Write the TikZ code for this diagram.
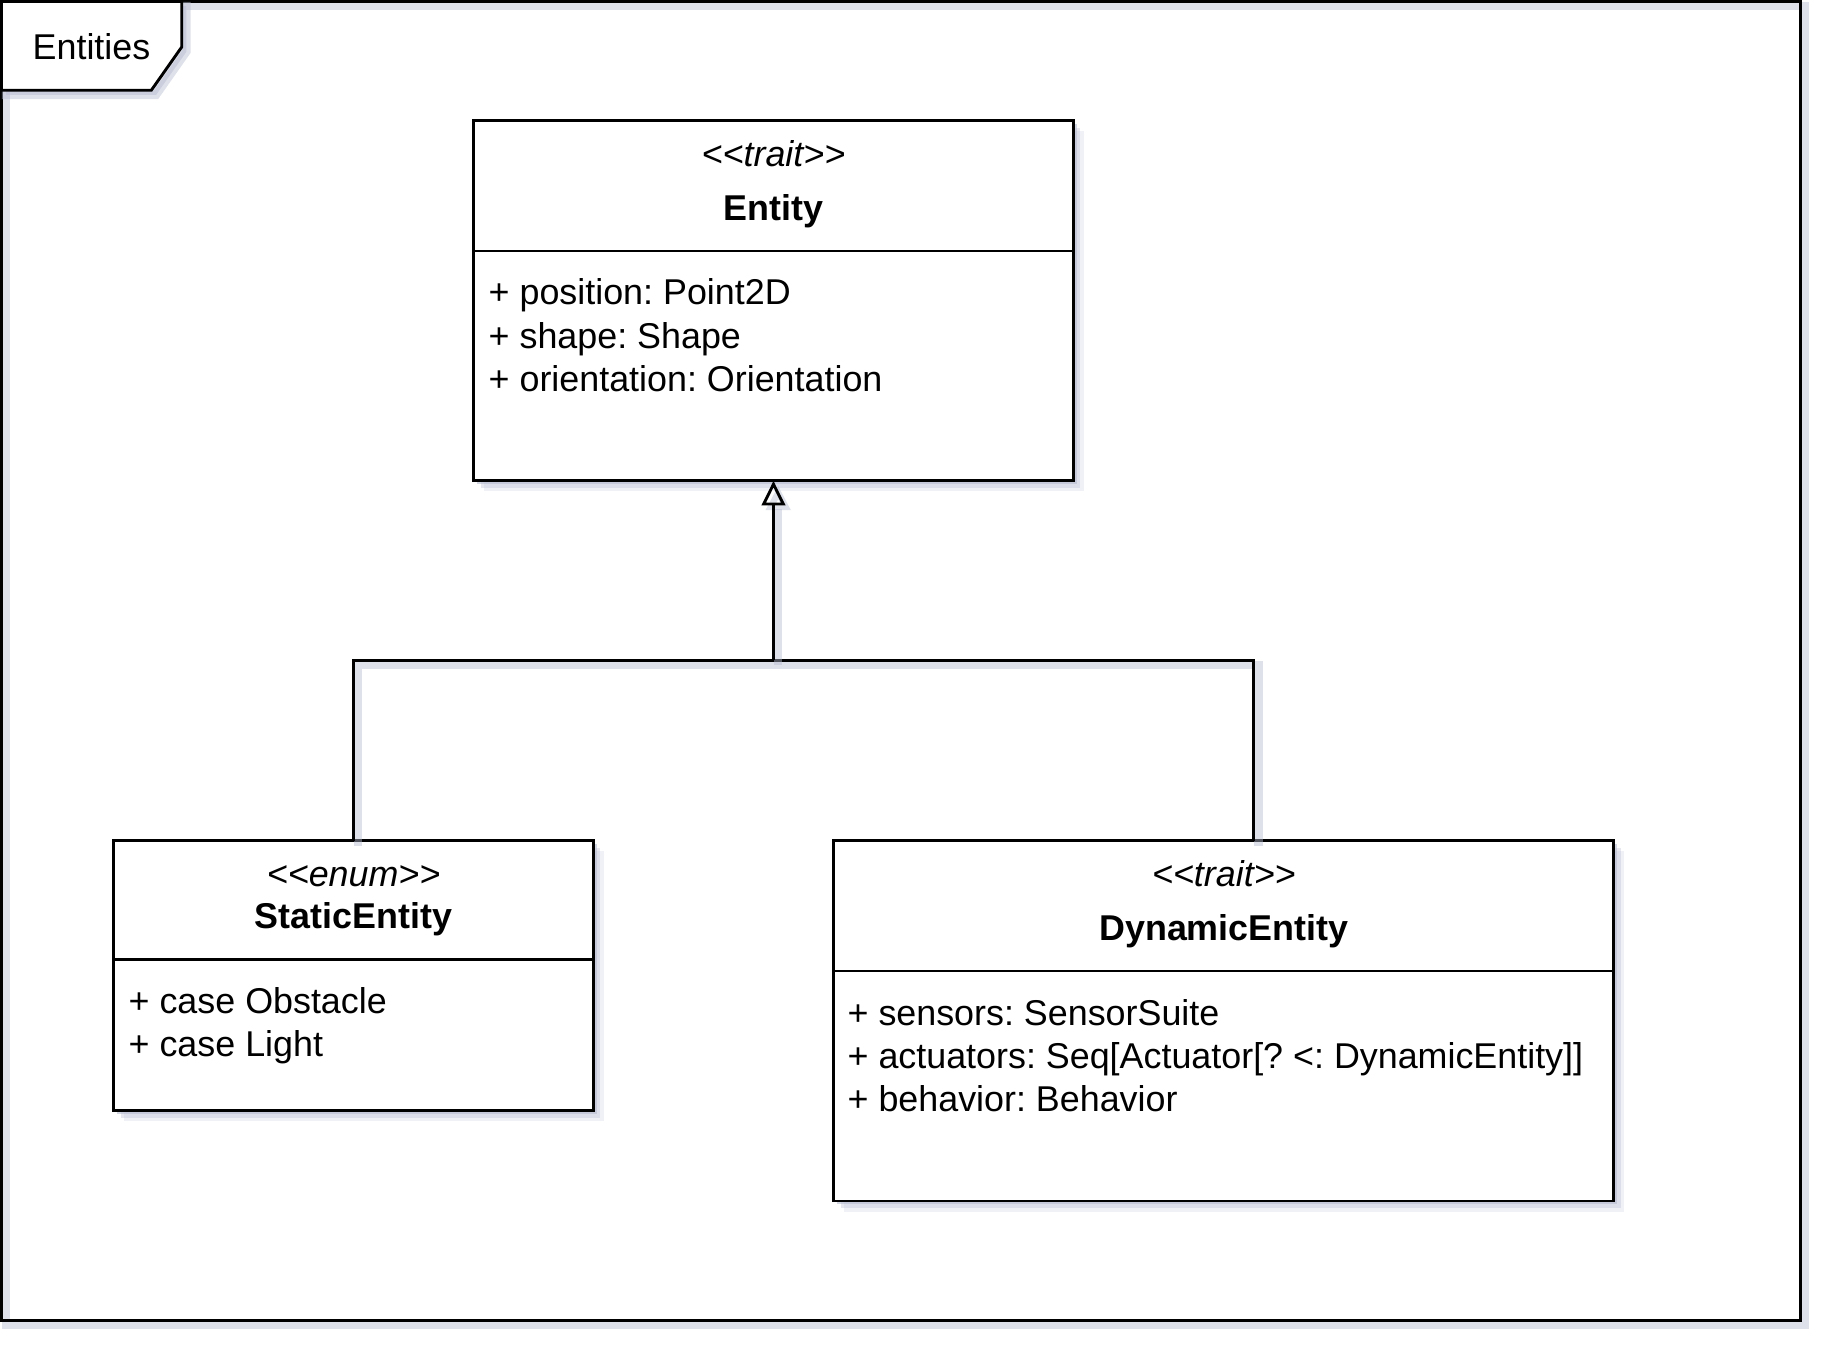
\documentclass[tikz,border=0pt]{standalone}
\usepackage{fontspec}
\setmainfont{Liberation Sans}
\usepackage{xcolor}
\usepackage{tikz}
\usetikzlibrary{
  arrows.meta,
  shadows,
  positioning,
  calc
}
\definecolor{shadowblue}{RGB}{182,187,208}
\newcommand{\umlfont}{\fontsize{8.7pt}{10.5pt}\selectfont\frenchspacing}
\newcommand{\stereotype}[1]{\textit{<{}<#1>{}>}}
\tikzset{
  classbox/.style=
  {
    draw=black,
    fill=white,
    line width=0.7pt,
    outer sep=0pt,
    inner sep=0pt,
    drop shadow={shadow xshift=0.09cm, shadow yshift=-0.09cm, fill=shadowblue, opacity=0.2},
    drop shadow={shadow xshift=0.06cm, shadow yshift=-0.06cm, fill=shadowblue, opacity=0.35},
    drop shadow={shadow xshift=0.03cm, shadow yshift=-0.03cm, fill=shadowblue, opacity=0.6}
  },
  divider/.style=
  {
    draw=black,
    line width=0.6pt
  },
  stereo/.style=
  {
    anchor=base,
    inner sep=0pt,
    font=\umlfont
  },
  classname/.style=
  {
    anchor=base,
    inner sep=0pt,
    font=\umlfont\bfseries
  },
  member/.style=
  {
    anchor=base west,
    inner sep=0pt,
    font=\umlfont
  },
  lineshadow/.style=
  {
    preaction={draw=shadowblue, opacity=0.45, line width=2pt,
      transform canvas={shift={(0.04cm,-0.04cm)}}}
  },
  connector/.style=
  {
    draw=black,
    line width=0.7pt,
    lineshadow
  },
  inherit/.style=
  {
    connector,
    -{Triangle[open, length=0.21cm, width=0.2cm]}
  }
}

\begin{document}
\begin{tikzpicture}[font=\umlfont]
  \useasboundingbox (0,0) rectangle (15.68,-11.56);
  % package frame
  \draw[connector] (0.012,-0.012) rectangle (15.35,-11.26);
  \draw[connector, fill=white,
    drop shadow={shadow xshift=0.04cm, shadow yshift=-0.04cm, fill=shadowblue, opacity=0.5}]
    (0.012,-0.012) -- (1.55,-0.012) -- (1.55,-0.40) -- (1.29,-0.77) -- (0.012,-0.77) -- cycle;
  \node (pkg) at (0.78,-0.40) {Entities};

  % Entity
  \node[classbox, minimum width=5.11cm, minimum height=3.07cm] (entity) at (6.595,-2.565) {};
  \node[stereo] (entity-st) at ([yshift=-0.39cm]entity.north) {\stereotype{trait}};
  \node[classname] (entity-nm) at ([yshift=-0.85cm]entity.north) {Entity};
  \coordinate (entity-div) at ([yshift=-1.11cm]entity.north west);
  \draw[divider] (entity-div) -- (entity-div -| entity.east);
  \foreach \m [count=\i] in {+ position: Point2D, + shape: Shape, + orientation: Orientation}
    \node[member] (entity-m\i) at ([xshift=0.12cm, yshift=-0.09cm-0.37cm*\i]entity-div) {\m};

  % StaticEntity
  \node[classbox, minimum width=4.09cm, minimum height=2.30cm] (static) at (3.015,-8.32) {};
  \node[stereo] (static-st) at ([yshift=-0.39cm]static.north) {\stereotype{enum}};
  \node[classname] (static-nm) at ([yshift=-0.75cm]static.north) {StaticEntity};
  \coordinate (static-div) at ([yshift=-1.01cm]static.north west);
  \draw[divider] (static-div) -- (static-div -| static.east);
  \foreach \m [count=\i] in {+ case Obstacle, + case Light}
    \node[member] (static-m\i) at ([xshift=0.12cm, yshift=-0.09cm-0.37cm*\i]static-div) {\m};

  % DynamicEntity
  \node[classbox, minimum width=6.65cm, minimum height=3.07cm] (dynamic) at (10.435,-8.705) {};
  \node[stereo] (dynamic-st) at ([yshift=-0.39cm]dynamic.north) {\stereotype{trait}};
  \node[classname] (dynamic-nm) at ([yshift=-0.85cm]dynamic.north) {DynamicEntity};
  \coordinate (dynamic-div) at ([yshift=-1.11cm]dynamic.north west);
  \draw[divider] (dynamic-div) -- (dynamic-div -| dynamic.east);
  \foreach \m [count=\i] in {+ sensors: SensorSuite, + actuators: Seq[Actuator[? <: DynamicEntity]], + behavior: Behavior}
    \node[member] (dynamic-m\i) at ([xshift=0.11cm, yshift=-0.09cm-0.37cm*\i]dynamic-div) {\m};

  % generalisation
  \coordinate (join) at (entity.south |- 0,-5.63);
  \coordinate (dynamic-in) at ([xshift=0.255cm]dynamic.north);
  \draw[connector] (static.north) |- (join) -| (dynamic-in);
  \draw[inherit] (join) -- (entity.south);
\end{tikzpicture}
\end{document}
